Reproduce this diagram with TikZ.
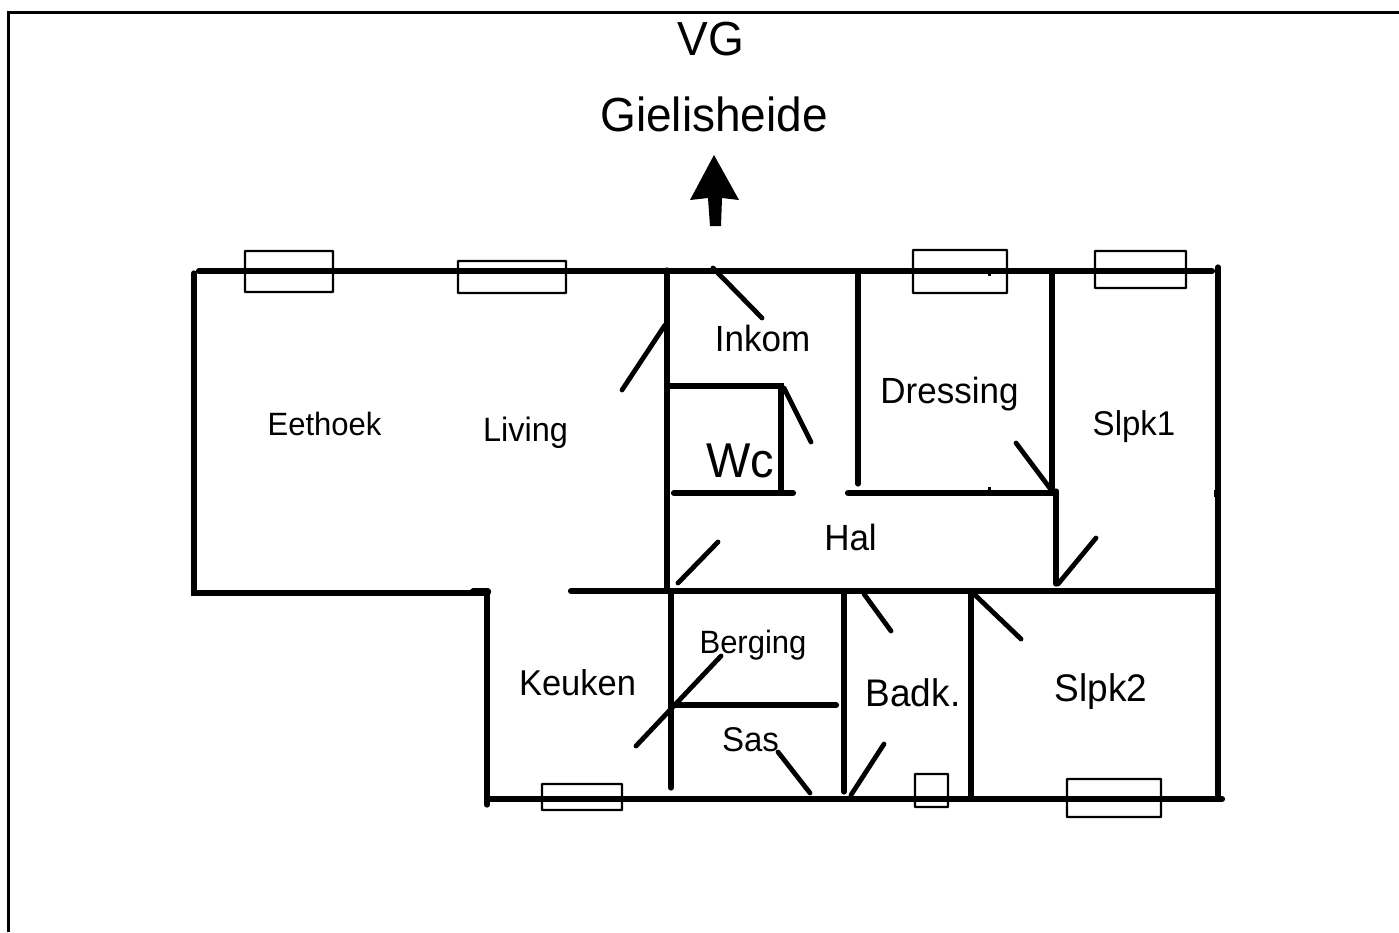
\documentclass[tikz,border=0pt]{standalone}
\usepackage{fontspec}
\setmainfont{Liberation Sans}
\newcommand{\lbl}[1]{\fontsize{#1}{#1}\selectfont}
\begin{document}
\begin{tikzpicture}[x=1pt,y=-1pt]
    \tikzset{
        wall/.style={line width=6.2pt,line cap=round},
        thin wall/.style={line width=5.2pt,line cap=round},
        door/.style={line width=4.8pt,line cap=round},
        window/.style={draw,line width=2.4pt,rounded corners=0.5pt},
        room/.style={inner sep=0,anchor=center,yscale=1.04,transform shape}
    }
    \useasboundingbox (0,0) rectangle (1399,932);
    % frame
    \draw[line width=3pt] (8.5,932) -- (8.5,12.5) -- (1399,12.5);
    % heading
    \node[room] (vg) at (711,39) {\lbl{46}VG};
    \node[room] (street) at (714,114) {\lbl{46}Gielisheide};
    \fill (714,155) -- (739,200) -- (722,198) -- (721,226) -- (710,226) -- (708,198) -- (690,200) -- cycle;
    % outer walls
    \draw[wall] (199,271) -- (1212,271);
    \draw[thin wall] (194,273) -- (194,593) -- (488,593);
    \draw[wall] (473,591.5) -- (488,591.5);
    \draw[thin wall] (487,592) -- (487,805);
    \draw[wall] (571,591) -- (1216,591);
    \draw[thin wall] (1218,267) -- (1218,797);
    \draw[wall] (487,799) -- (1222,799);
    % inner walls
    \draw[thin wall] (667,270) -- (667,590);
    \draw[thin wall] (671,592) -- (671,788);
    \draw[thin wall] (858,272) -- (858,484);
    \draw[thin wall] (1052,272) -- (1052,490);
    \draw[thin wall] (669,386) -- (781,386) -- (781,492);
    \draw[wall] (674,493) -- (793,493);
    \draw[wall] (848,493) -- (1056,493);
    \draw[thin wall] (1056,491) -- (1056,584);
    \draw[thin wall] (844,593) -- (844,792);
    \draw[thin wall] (971,593) -- (971,797);
    \draw[wall] (673,705) -- (836,705);
    % doors
    \foreach \xa/\ya/\xb/\yb in {713/268/762/318, 665/325/622/390, 784/388/811/442,
        1016/443/1052/491, 718/542/678/583, 1096/538/1058/584, 864/594/891/631,
        974/594/1021/639, 721/656/636/746, 778/752/810/793, 884/744/851/795}
        \draw[door] (\xa,\ya) -- (\xb,\yb);
    % windows
    \foreach \xa/\ya/\xb/\yb in {245/251/333/292, 458/261/566/293, 913/250/1007/293,
        1095/251/1186/288, 542/784/622/810, 915/774/948/807, 1067/779/1161/817}
        \draw[window] (\xa,\ya) rectangle (\xb,\yb);
    % ticks
    \draw[line width=3pt] (989,270) -- (989,276);
    \draw[line width=3pt] (989,487) -- (989,493);
    \draw[line width=2pt] (1215,490) -- (1215,497);
    % rooms
    \node[room] (eethoek) at (324.5,424) {\lbl{31}Eethoek};
    \node[room] (living) at (525.5,433) {\lbl{32.5}Living};
    \node[room] (inkom) at (762.5,338) {\lbl{35}Inkom};
    \node[room] (dressing) at (949.5,394) {\lbl{35}Dressing};
    \node[room] (slpk1) at (1134,427) {\lbl{33}Slpk1};
    \node[room] (wc) at (740,461) {\lbl{47}Wc};
    \node[room] (hal) at (850.5,537) {\lbl{35}Hal};
    \node[room] (berging) at (753,645) {\lbl{31}Berging};
    \node[room] (keuken) at (577.5,683) {\lbl{34.5}Keuken};
    \node[room] (sas) at (750.5,740) {\lbl{33}Sas};
    \node[room] (badk) at (913,693) {\lbl{37}Badk.};
    \node[room] (slpk2) at (1101,692) {\lbl{37}Slpk2};
\end{tikzpicture}
\end{document}
